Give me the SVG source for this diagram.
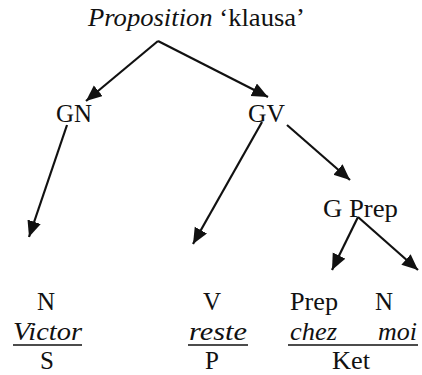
<svg xmlns="http://www.w3.org/2000/svg" width="422" height="375" viewBox="0 0 422 375">
<style>
text{font-family:Liberation Serif, serif;font-size:25px;fill:#111}
.it{font-style:italic}
.c{stroke:#111;stroke-width:2.2;fill:none}
.u{stroke:#111;stroke-width:1.6}
</style>
<defs>
<marker id="ah" markerUnits="userSpaceOnUse" markerWidth="18" markerHeight="16" refX="16" refY="7" orient="auto">
<path d="M0,0 L16,7 L0,14 Z" fill="#111"/>
</marker>
</defs>
<rect width="422" height="375" fill="#fff"/>
<g id="connectors">
<line class="c" x1="158" y1="41" x2="86" y2="101" marker-end="url(#ah)"/>
<line class="c" x1="158" y1="41" x2="268" y2="97" marker-end="url(#ah)"/>
<line class="c" x1="67" y1="125" x2="29" y2="237" marker-end="url(#ah)"/>
<line class="c" x1="262" y1="122" x2="193" y2="244" marker-end="url(#ah)"/>
<line class="c" x1="287" y1="125" x2="350" y2="180" marker-end="url(#ah)"/>
<line class="c" x1="358" y1="217" x2="332" y2="270" marker-end="url(#ah)"/>
<line class="c" x1="358" y1="217" x2="418" y2="270" marker-end="url(#ah)"/>
</g>
<g font-family="Liberation Serif">
<g id="proposition"><text x="88" y="26" textLength="217" lengthAdjust="spacingAndGlyphs"><tspan class="it">Proposition</tspan> ‘klausa’</text></g>
<g id="gn"><text x="56" y="122" textLength="36" lengthAdjust="spacingAndGlyphs">GN</text></g>
<g id="gv"><text x="248" y="122" textLength="37" lengthAdjust="spacingAndGlyphs">GV</text></g>
<g id="gprep"><text x="323" y="217" textLength="75" lengthAdjust="spacingAndGlyphs">G Prep</text></g>
<g id="col-victor">
<text x="37" y="310">N</text>
<text class="it" x="13" y="340" textLength="69" lengthAdjust="spacingAndGlyphs">Victor</text>
<line class="u" x1="13" y1="345" x2="82" y2="345"/>
<text x="40" y="369">S</text>
</g>
<g id="col-reste">
<text x="203" y="310">V</text>
<text class="it" x="189" y="340" textLength="58" lengthAdjust="spacingAndGlyphs">reste</text>
<line class="u" x1="188" y1="345" x2="248" y2="345"/>
<text x="205" y="369">P</text>
</g>
<g id="col-chezmoi">
<text x="290" y="310" textLength="48" lengthAdjust="spacingAndGlyphs">Prep</text>
<text x="375" y="310">N</text>
<text class="it" x="290" y="340" textLength="47" lengthAdjust="spacingAndGlyphs">chez</text>
<text class="it" x="378" y="340" textLength="39" lengthAdjust="spacingAndGlyphs">moi</text>
<line class="u" x1="288" y1="345" x2="418" y2="345"/>
<text x="332" y="369" textLength="38" lengthAdjust="spacingAndGlyphs">Ket</text>
</g>
</g>
</svg>
